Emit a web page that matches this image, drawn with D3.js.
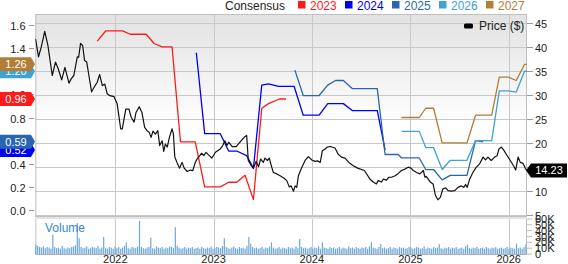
<!DOCTYPE html>
<html><head><meta charset="utf-8">
<script src="https://cdn.jsdelivr.net/npm/d3@7"></script>
<style>body{margin:0;background:#fff}svg{display:block;font-family:"Liberation Sans",Arial,sans-serif}</style>
</head><body><svg id="c" width="568" height="264"></svg>
<script>
// ---------- DATA ----------
const legendYears = ["2023","2024","2025","2026","2027"];
const yearTicks = ["2022-01-01","2023-01-01","2024-01-01","2025-01-01","2026-01-01"];
const epsTicks = [0,0.2,0.4,0.6,0.8,1.0,1.2,1.4,1.6];
const priceTicks = [5,10,15,20,25,30,35,40,45];
const volTicks = [0,10,20,30,40,50,60];

const price = [
["2021-03-11",41.6],["2021-03-22",37.9],["2021-04-01",39.9],["2021-04-14",43.2],["2021-04-26",40.2],
["2021-05-12",34.0],["2021-05-24",36.8],["2021-06-03",35.4],["2021-06-16",33.1],["2021-06-28",35.7],
["2021-07-13",32.4],["2021-07-21",33.3],["2021-07-31",34.0],["2021-08-13",37.9],["2021-08-18",37.8],
["2021-08-25",40.7],["2021-09-02",40.2],["2021-09-09",37.1],["2021-09-17",36.8],["2021-09-25",34.0],
["2021-10-05",30.6],["2021-10-18",31.9],["2021-10-26",32.6],["2021-11-04",34.2],["2021-11-14",31.9],
["2021-11-23",32.2],["2021-12-02",30.2],["2021-12-12",29.8],["2021-12-27",29.6],["2022-01-08",28.1],
["2022-01-21",22.9],["2022-01-27",22.9],["2022-02-09",27.0],["2022-02-21",27.0],["2022-03-01",25.3],
["2022-03-12",24.3],["2022-03-19",26.3],["2022-03-31",27.5],["2022-04-10",26.3],["2022-04-20",23.2],
["2022-04-29",22.5],["2022-05-07",22.2],["2022-05-14",21.1],["2022-05-21",22.4],["2022-05-30",21.8],
["2022-06-08",22.5],["2022-06-15",19.4],["2022-06-24",20.4],["2022-06-30",18.2],["2022-07-06",19.7],
["2022-07-13",19.1],["2022-07-21",21.1],["2022-07-31",22.9],["2022-08-05",21.8],["2022-08-10",17.0],
["2022-08-18",15.9],["2022-08-28",14.7],["2022-09-06",15.9],["2022-09-14",14.7],["2022-09-25",14.0],
["2022-10-07",14.3],["2022-10-16",14.2],["2022-10-25",15.9],["2022-11-03",16.8],["2022-11-11",17.3],
["2022-11-17",17.8],["2022-11-26",17.3],["2022-12-04",18.0],["2022-12-16",17.3],["2022-12-26",16.8],
["2023-01-08",18.0],["2023-01-26",18.7],["2023-02-04",19.4],["2023-02-12",20.4],["2023-02-20",19.4],
["2023-02-26",20.1],["2023-03-11",19.2],["2023-03-26",19.2],["2023-04-09",20.1],["2023-04-28",21.3],
["2023-05-04",21.5],["2023-05-10",16.3],["2023-05-19",15.4],["2023-05-29",14.7],["2023-06-08",16.1],
["2023-06-17",15.0],["2023-06-25",16.6],["2023-07-05",15.9],["2023-07-11",16.8],["2023-07-20",16.3],
["2023-07-27",16.8],["2023-08-05",14.9],["2023-08-11",13.8],["2023-08-24",13.5],["2023-09-05",13.1],
["2023-09-20",12.6],["2023-09-30",12.1],["2023-10-09",10.8],["2023-10-16",11.0],["2023-10-25",9.9],
["2023-10-31",11.0],["2023-11-06",10.7],["2023-11-12",13.1],["2023-11-25",14.9],["2023-12-07",16.3],
["2023-12-19",17.1],["2024-01-01",16.4],["2024-01-13",16.1],["2024-01-23",16.2],["2024-02-01",15.9],
["2024-02-09",18.3],["2024-02-19",18.7],["2024-02-28",19.1],["2024-03-09",19.2],["2024-03-27",18.9],
["2024-04-08",17.6],["2024-04-20",17.0],["2024-05-03",16.8],["2024-05-21",15.7],["2024-06-03",15.2],
["2024-06-19",14.7],["2024-07-14",14.2],["2024-08-04",12.4],["2024-08-16",11.8],["2024-08-28",11.4],
["2024-09-03",12.1],["2024-09-16",11.8],["2024-09-22",12.4],["2024-10-04",12.2],["2024-10-13",12.8],
["2024-10-23",12.8],["2024-11-05",13.1],["2024-11-17",13.6],["2024-11-29",14.2],["2024-12-12",14.5],
["2024-12-24",14.9],["2025-01-03",14.7],["2025-01-12",14.2],["2025-01-24",13.8],["2025-02-05",13.5],
["2025-02-18",14.2],["2025-02-24",12.8],["2025-03-01",13.0],["2025-03-16",11.8],["2025-03-26",11.4],
["2025-04-04",9.0],["2025-04-13",8.1],["2025-04-22",8.6],["2025-05-02",10.4],["2025-05-12",10.6],
["2025-05-21",10.0],["2025-06-02",9.9],["2025-06-14",10.0],["2025-06-27",10.7],["2025-07-09",11.0],
["2025-07-18",10.7],["2025-07-25",11.3],["2025-07-31",10.7],["2025-08-09",12.4],["2025-08-21",13.8],
["2025-09-03",14.9],["2025-09-15",15.6],["2025-09-28",17.0],["2025-10-07",16.4],["2025-10-16",17.0],
["2025-10-28",16.3],["2025-11-10",17.0],["2025-11-19",17.3],["2025-11-26",18.7],["2025-12-05",19.1],
["2025-12-13",18.5],["2025-12-23",17.6],["2026-01-07",16.3],["2026-01-19",15.2],["2026-01-27",14.3],
["2026-02-05",17.0],["2026-02-13",15.9],["2026-02-23",15.7],["2026-03-05",14.5],["2026-03-10",14.23]
];

const cons2023 = [["2021-10-26",1.46],["2021-11-27",1.55],["2022-01-28",1.55],["2022-02-26",1.52],["2022-04-26",1.52],["2022-05-25",1.44],["2022-06-24",1.41],["2022-07-31",1.41],["2022-08-31",0.59],["2022-10-25",0.59],["2022-11-29",0.20],["2023-01-26",0.20],["2023-02-26",0.24],["2023-03-28",0.24],["2023-04-28",0.30],["2023-05-29",0.09],["2023-06-29",0.88],["2023-07-24",0.92],["2023-09-03",0.96],["2023-09-27",0.96]];
const cons2024 = [["2022-10-29",1.36],["2022-11-29",0.66],["2023-01-26",0.66],["2023-02-26",0.51],["2023-03-28",0.51],["2023-05-04",0.47],["2023-05-29",0.36],["2023-06-29",1.08],["2023-07-24",1.09],["2023-08-30",1.07],["2023-10-27",1.07],["2023-11-30",0.82],["2024-01-28",0.82],["2024-02-29",0.92],["2024-04-27",0.92],["2024-05-30",0.86],["2024-08-31",0.86],["2024-09-29",0.52]];
const cons2025 = [["2023-10-30",1.21],["2023-11-30",0.99],["2024-01-28",0.99],["2024-02-29",1.08],["2024-03-29",1.12],["2024-04-27",1.12],["2024-05-30",1.05],["2024-08-31",1.05],["2024-09-29",0.48],["2024-11-17",0.48],["2024-11-29",0.45],["2025-02-03",0.45],["2025-02-27",0.35],["2025-03-28",0.35],["2025-04-29",0.26],["2025-05-29",0.30],["2025-07-30",0.30],["2025-08-31",0.60],["2025-09-28",0.59]];
const cons2026 = [["2024-11-29",0.68],["2025-02-03",0.68],["2025-02-27",0.54],["2025-03-28",0.54],["2025-04-29",0.35],["2025-05-29",0.43],["2025-07-30",0.43],["2025-08-31",0.60],["2025-10-30",0.60],["2025-11-27",1.03],["2025-12-31",1.03],["2026-01-29",1.02],["2026-03-01",1.20],["2026-03-10",1.20]];
const cons2027 = [["2024-11-29",0.80],["2025-02-03",0.80],["2025-02-27",0.88],["2025-03-28",0.88],["2025-04-29",0.58],["2025-07-30",0.58],["2025-08-31",0.82],["2025-10-30",0.82],["2025-11-27",1.15],["2025-12-31",1.15],["2026-01-29",1.12],["2026-03-01",1.26],["2026-03-10",1.26]];

// weekly volume (thousands), first week starting 2021-03-12
const volStart = "2021-03-12";
const volume = [
16,14,12,11,13,10,12,11,9,33,12,10,11,9,14,10,9,11,10,12,
13,15,53,27,12,10,11,13,9,10,12,11,10,14,9,11,29,10,9,12,
11,9,13,10,12,9,11,14,20,10,9,12,11,10,13,57,12,10,9,11,
12,28,10,9,13,11,10,12,9,11,10,13,12,10,46,14,11,9,10,12,
9,11,10,12,9,10,11,9,12,10,9,11,10,13,9,10,12,11,10,14,
27,12,10,9,11,13,10,9,12,10,11,9,14,29,18,12,10,11,9,10,
12,9,11,10,13,20,11,9,10,12,9,11,10,9,12,10,11,9,13,10,
26,12,10,11,9,10,12,9,11,10,13,9,20,11,10,9,12,10,11,9,
10,12,9,11,10,9,13,10,11,9,12,10,9,11,10,12,9,13,20,11,
10,9,12,17,10,11,9,10,12,9,11,10,9,12,10,11,9,10,12,11,
9,10,12,11,9,10,13,9,11,10,9,12,10,11,17,10,9,11,10,12,
9,11,10,12,9,10,11,9,13,16,10,9,11,10,12,9,10,11,9,12,
10,9,11,10,12,9,10,11,9,10,12,9,11,10,9,18,10,11,9,12,
17];

// ---------- STYLE ----------
const colors = {"2023":"#ff1a1a","2024":"#0000f0","2025":"#2a66b0","2026":"#3ea2d4","2027":"#b27d36"};
const series = [["2024",cons2024],["2025",cons2025],["2023",cons2023],["2026",cons2026],["2027",cons2027]];

const parse = d3.timeParse("%Y-%m-%d");
const L = 35.3, R = 527, T = 14, B = 216, VT = 219, VB = 254;

const x = d3.scaleTime().domain([parse("2021-03-10"), parse("2026-03-10")]).range([L, R]);
const yL = d3.scaleLinear().domain([0, 1.6]).range([210, 25]);
const yR = d3.scaleLinear().domain([5, 45]).range([214.7, 22.7]);
const yV = d3.scaleLinear().domain([0, 60]).range([VB, VT]);

const svg = d3.select("#c");
const defs = svg.append("defs");
const g = defs.append("linearGradient").attr("id","bg").attr("x1",0).attr("y1",0).attr("x2",0).attr("y2",1);
g.append("stop").attr("offset","0%").attr("stop-color","#e2e2e2");
g.append("stop").attr("offset","55%").attr("stop-color","#ffffff");
defs.append("clipPath").attr("id","clipM").append("rect").attr("x",L).attr("y",T).attr("width",R-L).attr("height",B-T);

// backgrounds
svg.append("rect").attr("x",L).attr("y",T).attr("width",R-L).attr("height",B-T).attr("fill","url(#bg)");
svg.append("rect").attr("x",L).attr("y",B).attr("width",R-L).attr("height",VT-B).attr("fill","#e4e4e4");

// gridlines
const grid = svg.append("g").attr("stroke","#c8c8c8").attr("stroke-width",1);
priceTicks.forEach(v => grid.append("line").attr("x1",L).attr("x2",R).attr("y1",Math.round(yR(v))+0.5).attr("y2",Math.round(yR(v))+0.5));
yearTicks.forEach(d => {
  const xx = Math.round(x(parse(d)))+0.5;
  grid.append("line").attr("x1",xx).attr("x2",xx).attr("y1",T).attr("y2",B);
  grid.append("line").attr("x1",xx).attr("x2",xx).attr("y1",VT).attr("y2",VB);
});
// frame
const fr = svg.append("g").attr("stroke","#c0c0c0").attr("fill","none");
fr.append("rect").attr("x",L+0.5).attr("y",T+0.5).attr("width",R-L-1).attr("height",B-T);
fr.append("line").attr("x1",L+0.5).attr("x2",L+0.5).attr("y1",VT).attr("y2",VB);
fr.append("line").attr("x1",R-0.5).attr("x2",R-0.5).attr("y1",VT).attr("y2",VB);
fr.append("line").attr("x1",L).attr("x2",R).attr("y1",VB+0.5).attr("y2",VB+0.5).attr("stroke","#b0b0b0");

// volume bars
const v0 = parse(volStart);
svg.append("g").selectAll("rect").data(volume).join("rect")
  .attr("x", (d,i) => x(d3.timeDay.offset(v0, i*7)) - 0.6)
  .attr("width", 1.2)
  .attr("y", d => yV(d))
  .attr("height", d => VB - yV(d))
  .attr("fill", "#6ea7da");
svg.append("text").attr("x",45).attr("y",232).attr("font-size",12).attr("fill","#3a88cc").text("Volume");

// lines
const clipG = svg.append("g").attr("clip-path","url(#clipM)");
const lineL = d3.line().x(d => x(parse(d[0]))).y(d => yL(d[1]));
series.forEach(([k, data]) => {
  clipG.append("path").datum(data).attr("d", lineL).attr("fill","none")
    .attr("stroke", colors[k]).attr("stroke-width",1.3).attr("stroke-linejoin","round");
});
const lineP = d3.line().x(d => x(parse(d[0]))).y(d => yR(d[1]));
clipG.append("path").datum(price).attr("d", lineP).attr("fill","none")
  .attr("stroke","#111").attr("stroke-width",1.2).attr("stroke-linejoin","round");

// left axis
const la = svg.append("g").attr("font-size",11).attr("fill","#222");
epsTicks.forEach(v => {
  const yy = Math.round(yL(v))+0.5;
  la.append("line").attr("x1",29).attr("x2",34).attr("y1",yy).attr("y2",yy).attr("stroke","#999");
  la.append("text").attr("x",25.5).attr("y",yy+4).attr("text-anchor","end").text(d3.format(".1f")(v));
});
// right axis
const ra = svg.append("g").attr("font-size",11).attr("fill","#222");
priceTicks.forEach(v => {
  const yy = Math.round(yR(v))+0.5;
  ra.append("line").attr("x1",R).attr("x2",R+6).attr("y1",yy).attr("y2",yy).attr("stroke","#999");
  ra.append("text").attr("x",535).attr("y",yy+4).text(v);
});
volTicks.forEach(v => {
  const yy = yV(v);
  ra.append("line").attr("x1",R).attr("x2",R+5).attr("y1",yy).attr("y2",yy).attr("stroke","#bbb");
  ra.append("text").attr("x",535).attr("y",yy+4).text(v===0 ? "0" : v+"K");
});
// year labels
yearTicks.forEach(d => svg.append("text").attr("x",x(parse(d))).attr("y",263).attr("text-anchor","middle")
  .attr("font-size",11).attr("fill","#222").text(d.slice(0,4)));

// left value tags
series.forEach(([k, data]) => {
  const last = data[data.length-1][1];
  const cy = yL(last);
  svg.append("path").attr("d", `M0,${cy-7}L31,${cy-7}L35,${cy}L31,${cy+7}L0,${cy+7}Z`).attr("fill", colors[k]);
  svg.append("text").attr("x",16).attr("y",cy+4).attr("text-anchor","middle").attr("font-size",11)
    .attr("fill","#fff").text(d3.format(".2f")(last));
});
// price tag
const lp = price[price.length-1][1];
const py = yR(lp);
svg.append("path").attr("d", `M526,${py}L531,${py-7}L567,${py-7}L567,${py+7}L531,${py+7}Z`).attr("fill","#000");
svg.append("text").attr("x",549).attr("y",py+4).attr("text-anchor","middle").attr("font-size",11).attr("fill","#fff").text(d3.format(".2f")(lp));

// legend
svg.append("text").attr("x",225).attr("y",9.5).attr("font-size",12).attr("fill","#222").text("Consensus");
legendYears.forEach((yr, i) => {
  const lx = 298 + i*47;
  svg.append("rect").attr("x",lx).attr("y",1).attr("width",7.5).attr("height",7.5).attr("fill",colors[yr]);
  svg.append("text").attr("x",lx+12).attr("y",9.5).attr("font-size",12).attr("fill",colors[yr]).text(yr);
});
svg.append("rect").attr("x",464).attr("y",23.5).attr("width",9).attr("height",5).attr("rx",1.5).attr("fill","#000");
svg.append("text").attr("x",479).attr("y",30).attr("font-size",12).attr("fill","#222").text("Price ($)");
</script>
</body></html>
